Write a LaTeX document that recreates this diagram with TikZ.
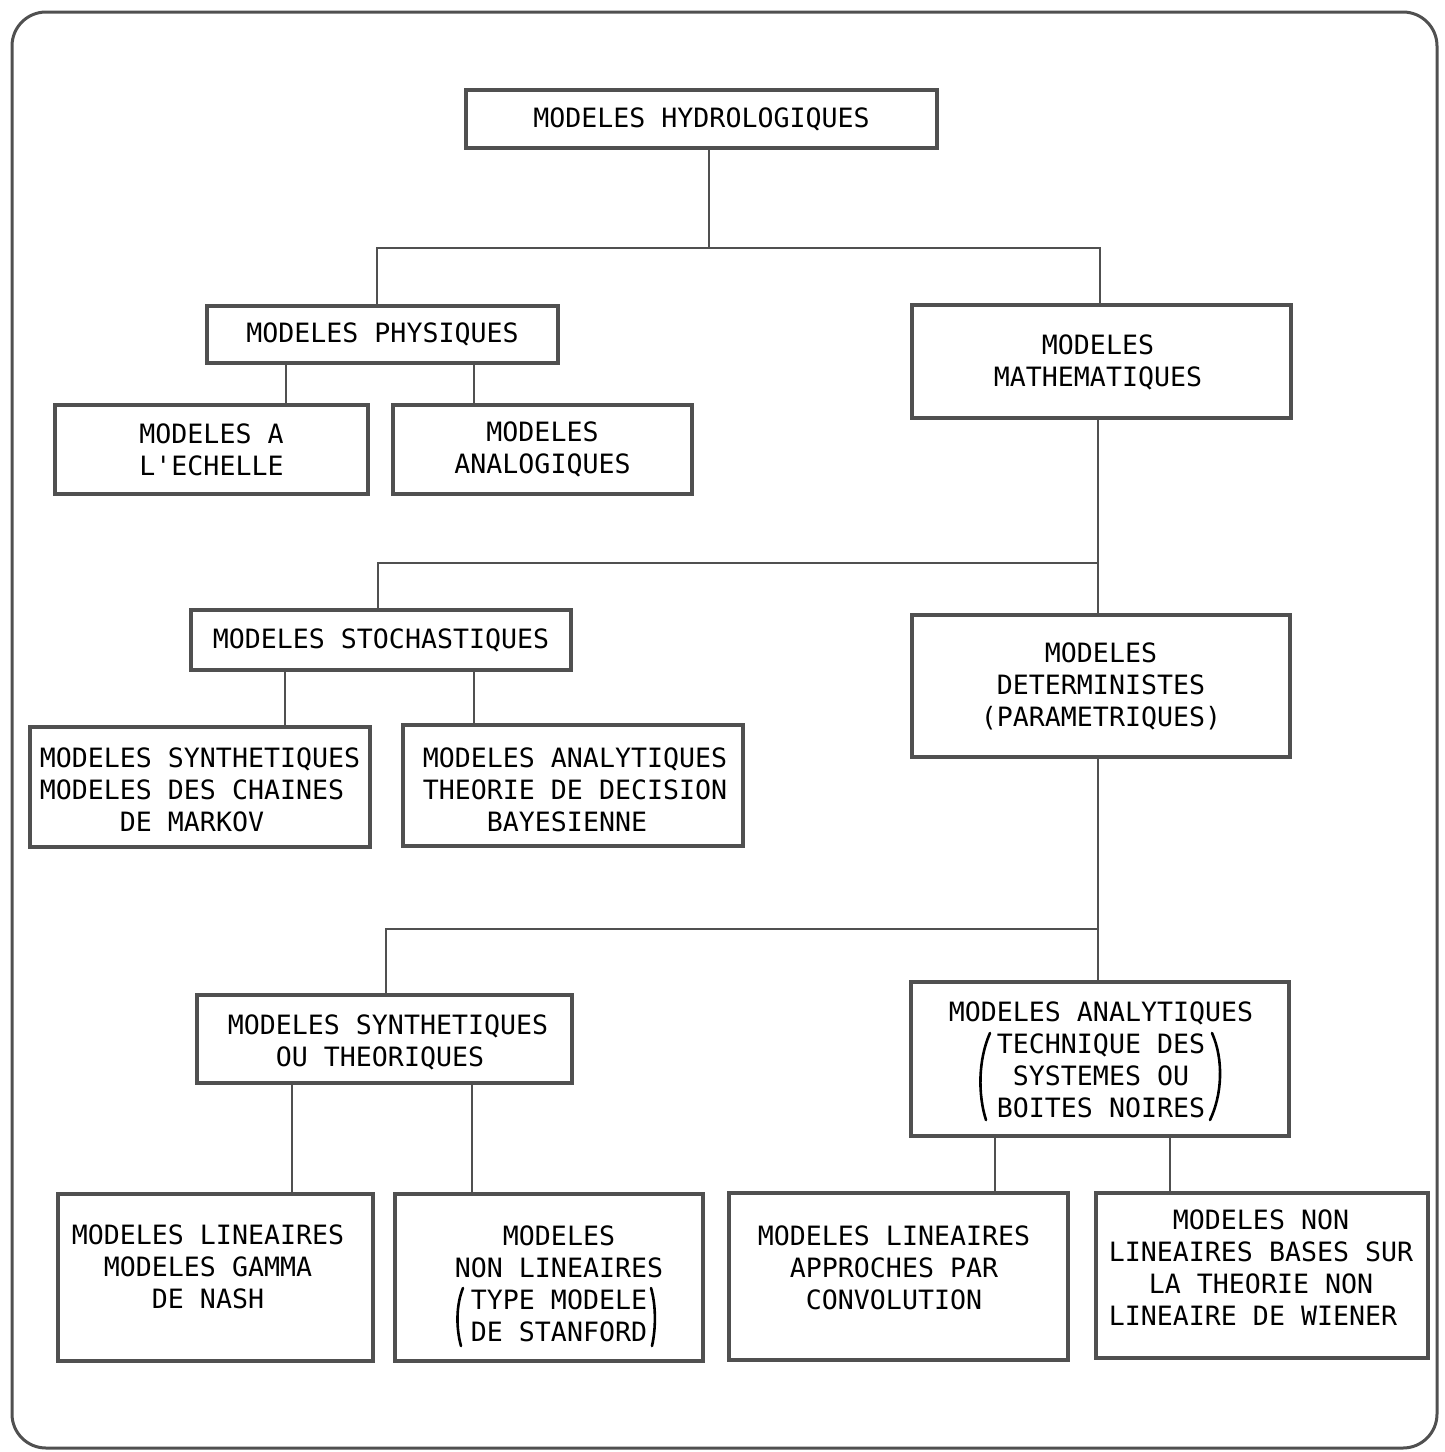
\documentclass[tikz,border=0pt]{standalone}
\usepackage{fontspec}
\newfontfamily\monofnt{DejaVu Sans Mono}
\usetikzlibrary{calc}
\definecolor{lineg}{RGB}{80,80,80}
\begin{document}
\begin{tikzpicture}[x=0.5pt,y=-0.5pt,
  box/.style={draw=lineg,line width=2pt,inner sep=0pt,align=center,
    font=\monofnt\fontsize{13.3}{16}\selectfont},
  txt/.style={inner sep=0pt,align=center,font=\monofnt\fontsize{13.3}{16}\selectfont},
  conn/.style={draw=lineg,line width=1pt},
  paren/.style={draw=black,line width=1.3pt,line cap=round},
  outer/.style={draw=lineg,line width=1.5pt,rounded corners=17pt}]
\useasboundingbox (0,0) rectangle (1445,1452);
\draw[outer] (12,12) rectangle (1437,1448);

% boxes
\node[box,minimum width=235.5pt,minimum height=29pt] (b1) at (701.5,119) {MODELES HYDROLOGIQUES};
\node[box,minimum width=175.5pt,minimum height=28.5pt] (b2) at (382.5,334.5) {MODELES PHYSIQUES};
\node[box,minimum width=189.5pt,minimum height=56.5pt] (b3) at (1101.5,361.5) {};
\node[txt] (t3) at (1098,362) {MODELES\\MATHEMATIQUES};
\node[box,minimum width=156.5pt,minimum height=44.5pt] (b4) at (211.5,449.5) {MODELES A\\L'ECHELLE};
\node[box,minimum width=149.5pt,minimum height=44.5pt] (b5) at (542.5,449.5) {MODELES\\ANALOGIQUES};
\node[box,minimum width=190pt,minimum height=30pt] (b6) at (381,640) {MODELES STOCHASTIQUES};
\node[box,minimum width=170pt,minimum height=60pt] (b7) at (200,787) {};
\node[txt] (t7) at (200,790) {MODELES SYNTHETIQUES\\MODELES DES CHAINES\hphantom{X}\\DE MARKOV\hphantom{X}};
\node[box,minimum width=170pt,minimum height=60.5pt] (b8) at (573,785.5) {};
\node[txt] (t8) at (575,790) {MODELES ANALYTIQUES\\THEORIE DE DECISION\\BAYESIENNE\hphantom{X}};
\node[box,minimum width=189pt,minimum height=71pt] (b9) at (1101,686) {MODELES\\DETERMINISTES\\(PARAMETRIQUES)};
\node[box,minimum width=187.5pt,minimum height=44pt] (b10) at (384.5,1039) {};
\node[txt] (t10) at (388,1042) {MODELES SYNTHETIQUES\\OU THEORIQUES\hphantom{X}};
\node[box,minimum width=189pt,minimum height=77pt] (b11) at (1100,1059) {};
\node[txt] (t11) at (1101,1060) {MODELES ANALYTIQUES\\TECHNIQUE DES\\SYSTEMES OU\\BOITES NOIRES};
\node[box,minimum width=157.5pt,minimum height=83.5pt] (b12) at (215.5,1277.5) {};
\node[txt] (t12) at (208,1267) {MODELES LINEAIRES\\MODELES GAMMA\\DE NASH};
\node[box,minimum width=154pt,minimum height=83.5pt] (b13) at (549,1277.5) {};
\node[txt] (t13) at (559,1284) {MODELES\\NON LINEAIRES\\TYPE MODELE\\DE STANFORD};
\node[box,minimum width=169.5pt,minimum height=83.5pt] (b14) at (898.5,1276.5) {};
\node[txt] (t14) at (894,1268) {MODELES LINEAIRES\\APPROCHES PAR\\CONVOLUTION};
\node[box,minimum width=166pt,minimum height=82.5pt] (b15) at (1262,1275.5) {};
\node[txt] (t15) at (1261,1268) {MODELES NON\\LINEAIRES BASES SUR\\LA THEORIE NON\\LINEAIRE DE WIENER\hphantom{X}};

% parentheses
\draw[paren] (990,1033) .. controls (978,1060) and (978,1095) .. (986,1120);
\draw[paren] (1212,1033) .. controls (1224,1060) and (1222,1095) .. (1210,1120);
\draw[paren] (463,1288) .. controls (456,1305) and (456,1328) .. (461,1346);
\draw[paren] (651,1288) .. controls (656,1305) and (656,1328) .. (652,1346);

% connector coordinates
\coordinate (j1) at (709,248);
\coordinate (j2) at (1098,563);
\coordinate (j3) at (1098,929);
\coordinate (c2) at (377,0);
\coordinate (c3) at (1100,0);
\coordinate (c4) at (286,0);
\coordinate (c5) at (474,0);
\coordinate (c6) at (378,0);
\coordinate (c7) at (285,0);
\coordinate (c8) at (474,0);
\coordinate (c10) at (386,0);
\coordinate (c12) at (292,0);
\coordinate (c13) at (472,0);
\coordinate (c14) at (995,0);
\coordinate (c15) at (1170,0);

% connectors
\draw[conn] (j1 |- b1.south) -- (j1);
\draw[conn] (c2 |- b2.north) |- (j1) -| (c3 |- b3.north);
\draw[conn] (c4 |- b2.south) -- (c4 |- b4.north);
\draw[conn] (c5 |- b2.south) -- (c5 |- b5.north);
\draw[conn] (j2 |- b3.south) -- (j2);
\draw[conn] (c6 |- b6.north) |- (j2) -- (j2 |- b9.north);
\draw[conn] (c7 |- b6.south) -- (c7 |- b7.north);
\draw[conn] (c8 |- b6.south) -- (c8 |- b8.north);
\draw[conn] (j3 |- b9.south) -- (j3);
\draw[conn] (c10 |- b10.north) |- (j3) -- (j3 |- b11.north);
\draw[conn] (c12 |- b10.south) -- (c12 |- b12.north);
\draw[conn] (c13 |- b10.south) -- (c13 |- b13.north);
\draw[conn] (c14 |- b11.south) -- (c14 |- b14.north);
\draw[conn] (c15 |- b11.south) -- (c15 |- b15.north);
\end{tikzpicture}
\end{document}
